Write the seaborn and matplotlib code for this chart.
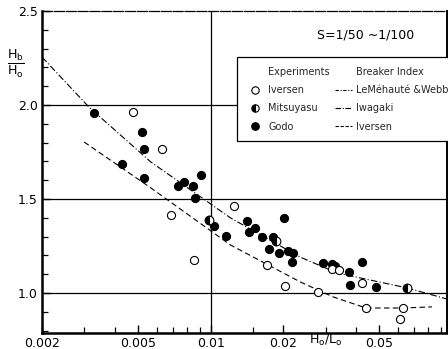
import numpy as np
import pandas as pd
import matplotlib
matplotlib.use("Agg")
import matplotlib.pyplot as plt
from matplotlib.lines import Line2D
from matplotlib.ticker import FixedLocator, NullFormatter
import seaborn as sns

# ---------------- data ----------------
goda_x = [0.00329, 0.00519, 0.00529, 0.00429, 0.00529, 0.00731, 0.00774, 0.00843,
          0.00909, 0.00859, 0.01029, 0.01153, 0.01409, 0.01449, 0.01535, 0.0164,
          0.0182, 0.0202, 0.01753, 0.01928, 0.0210, 0.0220, 0.0218, 0.0293,
          0.0319, 0.0329, 0.0375, 0.0425, 0.0379, 0.0485]
goda_y = [1.957, 1.856, 1.766, 1.686, 1.612, 1.569, 1.590, 1.569,
          1.628, 1.505, 1.356, 1.303, 1.383, 1.324, 1.346, 1.298,
          1.298, 1.399, 1.234, 1.213, 1.223, 1.213, 1.165, 1.160,
          1.154, 1.144, 1.112, 1.165, 1.043, 1.032]

iversen_x = [0.00476, 0.00627, 0.00683, 0.01245, 0.00851, 0.0172, 0.0204,
             0.0280, 0.0319, 0.0341, 0.0425, 0.0441, 0.0627, 0.0610]
iversen_y = [1.963, 1.766, 1.415, 1.463, 1.176, 1.149, 1.037,
             1.005, 1.128, 1.122, 1.053, 0.920, 0.920, 0.862]

mitsuyasu_x = [0.00981, 0.01874, 0.0652]
mitsuyasu_y = [1.388, 1.277, 1.027]

# breaker index curves
lemehaute_x = [0.002, 0.00313, 0.00565, 0.0121, 0.0235, 0.0335, 0.0652, 0.0953]
lemehaute_y = [2.255, 1.989, 1.697, 1.399, 1.191, 1.106, 1.027, 0.968]

iversen_curve_x = [0.00299, 0.00565, 0.0121, 0.0235, 0.0322, 0.0441, 0.0627, 0.0827]
iversen_curve_y = [1.803, 1.559, 1.255, 1.059, 0.979, 0.920, 0.920, 0.926]

x_ticks = [0.002, 0.005, 0.01, 0.02, 0.05, 0.1]
x_tick_labels = ["0.002", "0.005", "0.01", "0.02", "0.05", "0.1"]
x_minor = [0.003, 0.004, 0.006, 0.007, 0.008, 0.009, 0.015,
           0.03, 0.04, 0.06, 0.07, 0.08, 0.09]
y_ticks = [1.0, 1.5, 2.0, 2.5]
y_tick_labels = ["1.0", "1.5", "2.0", "2.5"]
y_minor = [0.8, 0.9, 1.1, 1.2, 1.3, 1.4, 1.6, 1.7, 1.8, 1.9, 2.1, 2.2, 2.3, 2.4]

exp_labels = ["Iversen", "Mitsuyasu", "Godo"]
idx_labels = ["LeMéhauté &Webb", "Iwagaki", "Iversen"]

# ---------------- figure ----------------
sns.set_theme(style="white")
plt.rcParams["font.family"] = ["DejaVu Sans"]

fig = plt.figure(figsize=(4.48, 3.49), dpi=100)
ax = fig.add_axes([42 / 448, 1 - 333 / 349, 405 / 448, 322 / 349])
ax.set_xscale("log")
ax.set_xlim(0.002, 0.0955)
ax.set_ylim(0.787, 2.5)

# grid lines
for yv in [1.0, 1.5, 2.0]:
    ax.axhline(yv, color="black", lw=0.9, zorder=1)
ax.axvline(0.01, color="black", lw=0.9, zorder=1)

# curves
sns.lineplot(x=lemehaute_x, y=lemehaute_y, ax=ax, color="black", lw=0.8,
             estimator=None, sort=False, zorder=2)
ax.lines[-1].set_dashes([6, 2, 1, 2])
sns.lineplot(x=iversen_curve_x, y=iversen_curve_y, ax=ax, color="black", lw=0.8,
             estimator=None, sort=False, zorder=2)
ax.lines[-1].set_dashes([5, 3])

# points
sns.scatterplot(x=goda_x, y=goda_y, ax=ax, color="black", s=34,
                edgecolor="black", linewidth=0.8, zorder=4)
sns.scatterplot(x=iversen_x, y=iversen_y, ax=ax, facecolor="white", s=34,
                edgecolor="black", linewidth=0.8, zorder=4)
ax.plot(mitsuyasu_x, mitsuyasu_y, linestyle="none", marker="o", markersize=6.3,
        fillstyle="left", markerfacecolor="black", markerfacecoloralt="white",
        markeredgecolor="black", markeredgewidth=0.8, zorder=5)

# ticks
ax.xaxis.set_major_locator(FixedLocator(x_ticks))
ax.set_xticklabels(x_tick_labels)
ax.xaxis.set_minor_locator(FixedLocator(x_minor))
ax.xaxis.set_minor_formatter(NullFormatter())
ax.yaxis.set_major_locator(FixedLocator(y_ticks))
ax.set_yticklabels(y_tick_labels)
ax.yaxis.set_minor_locator(FixedLocator(y_minor))
ax.tick_params(axis="both", which="major", direction="in", length=6, width=1,
               labelsize=9, color="black", labelcolor="black", pad=3,
               bottom=True, left=True)
ax.tick_params(axis="both", which="minor", direction="in", length=4, width=0.9,
               color="black", bottom=True, left=True)
ax.set_xlabel("")
ax.set_ylabel("")

for side in ["left", "bottom"]:
    ax.spines[side].set_linewidth(1.8)
    ax.spines[side].set_color("black")
ax.spines["right"].set_linewidth(1.4)
ax.spines["right"].set_color("black")
ax.spines["top"].set_linewidth(0.9)
ax.spines["top"].set_color("black")
ax.spines["top"].set_linestyle((0, (8, 1.5)))

# legend
blank = Line2D([], [], linestyle="none", marker=None)
h_iv = Line2D([], [], linestyle="none", marker="o", markersize=5.3,
              markerfacecolor="white", markeredgecolor="black", markeredgewidth=0.8)
h_mi = Line2D([], [], linestyle="none", marker="o", markersize=5.3, fillstyle="left",
              markerfacecolor="black", markerfacecoloralt="white",
              markeredgecolor="black", markeredgewidth=0.8)
h_go = Line2D([], [], linestyle="none", marker="o", markersize=5.3,
              markerfacecolor="black", markeredgecolor="black")
h_lm = Line2D([], [], color="black", lw=0.8, dashes=[3, 1.5, 1, 1.5])
h_iw = Line2D([], [], color="black", lw=0.8, dashes=[5, 1.5, 1, 1.5])
h_is = Line2D([], [], color="black", lw=0.8, dashes=[3, 1.5])
handles = [blank, h_iv, h_mi, h_go, blank, h_lm, h_iw, h_is]
labels = ["Experiments"] + exp_labels + ["Breaker Index"] + idx_labels
leg = ax.legend(handles, labels, ncol=2, loc="upper left",
                bbox_to_anchor=((237 - 42) / 405, (333 - 57) / 322),
                borderaxespad=0, fontsize=7, frameon=True, fancybox=False,
                edgecolor="black", framealpha=1, borderpad=1.0,
                handlelength=1.8, handletextpad=0.4, columnspacing=0.5,
                labelspacing=0.85)
leg.get_frame().set_linewidth(0.9)
leg.set_zorder(6)

# annotations
fig.text(366 / 448, 1 - 35 / 349, "S=1/50 \u223c1/100", fontsize=9,
         ha="center", va="center", color="black")
fig.text(16 / 448, 1 - 64 / 349, r"$\frac{\mathrm{H_b}}{\mathrm{H_o}}$", fontsize=13,
         ha="center", va="center", color="black")
fig.text(326 / 448, 1 / 349, r"$\mathrm{H_o / L_o}$", fontsize=9,
         ha="center", va="bottom", color="black")

fig.savefig("out.png", dpi=100)
